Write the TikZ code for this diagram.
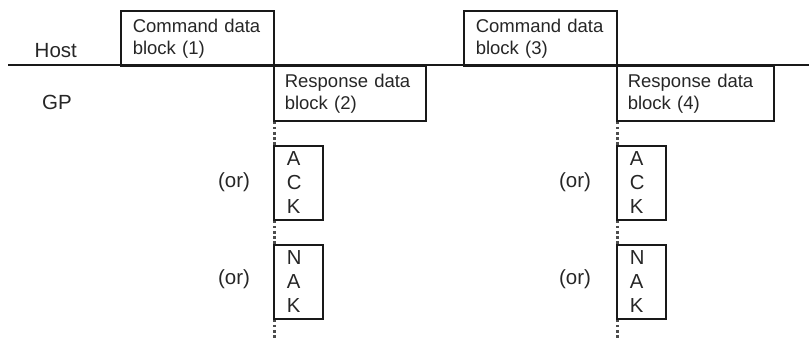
\documentclass[tikz,border=0pt]{standalone}
\usepackage{fontspec}
\setmainfont{Liberation Sans}
\begin{document}
\begin{tikzpicture}[x=1pt,y=-1pt,
  every node/.style={font=\fontsize{18.5}{22}\selectfont, text=black!85},
  blk/.style={draw=black!90, line width=1.6pt, anchor=north west, align=left,
    inner ysep=0pt, minimum height=55pt},
  letbox/.style={draw=black!90, line width=1.6pt, anchor=north west, align=left,
    font=\fontsize{20.3}{24}\selectfont, inner ysep=0pt, inner xsep=0pt,
    minimum width=49pt, minimum height=74pt, text width=49pt},
  lbl/.style={inner sep=0pt, font=\fontsize{20.5}{24}\selectfont},
  dots/.style={line width=2.6pt, dash pattern=on 2.6pt off 2.6pt, draw=black!70}]
\useasboundingbox (0,0) rectangle (809,339);
% main line
\coordinate (l0) at (8,65);
\coordinate (l1) at (809,65);
\draw[line width=1.6pt, black!90] (l0) -- (l1);
% labels
\node[lbl, anchor=base west] (host) at (34.5,57.7) {Host};
\node[lbl, anchor=base west] (gp) at (42,109.3) {GP};
% command blocks
\node[blk, minimum width=153pt, text width=129pt, inner xsep=12pt] (c1) at (120,10) {Command data\\block (1)};
\node[blk, minimum width=153pt, text width=129pt, inner xsep=12pt] (c3) at (463,10) {Command data\\block (3)};
% response blocks
\node[blk, minimum width=152pt, text width=130pt, inner xsep=11pt] (r2) at (273,65) {Response data\\block (2)};
\node[blk, minimum width=157pt, text width=135pt, inner xsep=11pt] (r4) at (616,65) {Response data\\block (4)};
% ACK / NAK boxes
\node[letbox] (a2) at (273,145) {\hspace*{13pt}A\\\hspace*{13pt}C\\\hspace*{13pt}K};
\node[letbox] (n2) at (273,244) {\hspace*{13pt}N\\\hspace*{13pt}A\\\hspace*{13pt}K};
\node[letbox] (a4) at (616,145) {\hspace*{13pt}A\\\hspace*{13pt}C\\\hspace*{13pt}K};
\node[letbox] (n4) at (616,244) {\hspace*{13pt}N\\\hspace*{13pt}A\\\hspace*{13pt}K};
% (or) labels
\node[lbl] (o1) at (234,182) {(or)};
\node[lbl] (o2) at (234,279) {(or)};
\node[lbl] (o3) at (575,182) {(or)};
\node[lbl] (o4) at (575,279) {(or)};
% dotted connectors
\coordinate (e2) at (274.3,339);
\coordinate (e4) at (617.3,339);
\draw[dots] ([xshift=1.3pt]r2.south west) -- ([xshift=1.3pt]a2.north west);
\draw[dots] ([xshift=1.3pt]a2.south west) -- ([xshift=1.3pt]n2.north west);
\draw[dots] ([xshift=1.3pt]n2.south west) -- (e2);
\draw[dots] ([xshift=1.3pt]r4.south west) -- ([xshift=1.3pt]a4.north west);
\draw[dots] ([xshift=1.3pt]a4.south west) -- ([xshift=1.3pt]n4.north west);
\draw[dots] ([xshift=1.3pt]n4.south west) -- (e4);
\end{tikzpicture}
\end{document}
